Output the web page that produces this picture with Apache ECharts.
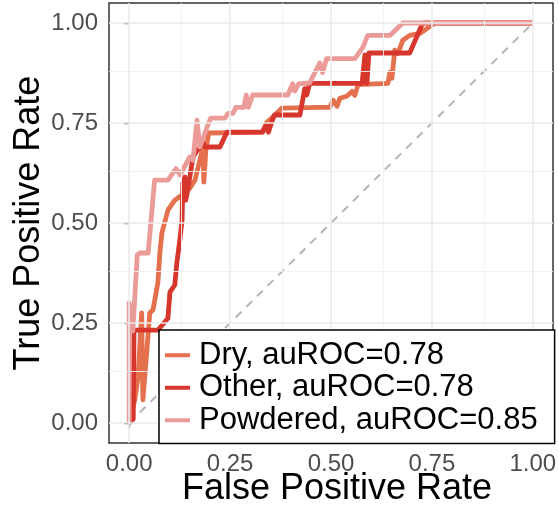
<!DOCTYPE html>
<html>
<head>
<meta charset="utf-8">
<script src="https://cdn.jsdelivr.net/npm/echarts@6/dist/echarts.min.js"></script>
<style>
html,body{margin:0;padding:0;background:#fff;}
#chart{width:559px;height:506px;}
</style>
</head>
<body>
<div id="chart"></div>
<script>
// ---- data ----
var seriesNames = ['Dry, auROC=0.78', 'Other, auROC=0.78', 'Powdered, auROC=0.85'];
var tickValues = [0, 0.25, 0.5, 0.75, 1];
var minorBreaks = [0.125, 0.375, 0.625, 0.875];
var diagonal = [[0, 0], [1, 1]];

var dry = [
  [0,0],[0.014,0.058],[0.022,0.115],[0.031,0.275],[0.034,0.058],[0.044,0.183],[0.051,0.275],
  [0.059,0.283],[0.071,0.35],[0.076,0.425],[0.081,0.475],[0.096,0.532],[0.113,0.557],
  [0.138,0.575],[0.15,0.587],[0.163,0.607],[0.175,0.657],[0.183,0.69],[0.185,0.602],
  [0.19,0.682],[0.197,0.725],[0.331,0.727],[0.341,0.752],[0.356,0.765],[0.378,0.787],
  [0.472,0.789],[0.497,0.789],[0.505,0.807],[0.515,0.792],[0.522,0.812],[0.539,0.817],
  [0.552,0.829],[0.559,0.819],[0.567,0.846],[0.641,0.849],[0.646,0.877],[0.651,0.862],
  [0.658,0.932],[0.666,0.924],[0.678,0.957],[0.695,0.969],[0.72,0.974],[0.752,0.996],
  [0.762,1],[1,1]
];
var other = [
  [0,0],[0.01,0.01],[0.012,0.232],[0.071,0.232],[0.096,0.262],[0.101,0.327],[0.113,0.345],
  [0.118,0.4],[0.126,0.462],[0.131,0.507],[0.133,0.6],[0.138,0.615],[0.14,0.557],
  [0.145,0.582],[0.158,0.664],[0.165,0.676],[0.183,0.7],[0.188,0.69],[0.225,0.69],
  [0.242,0.727],[0.33,0.727],[0.34,0.747],[0.345,0.727],[0.354,0.755],[0.36,0.77],
  [0.423,0.77],[0.435,0.836],[0.44,0.82],[0.447,0.849],[0.577,0.849],[0.584,0.92],
  [0.589,0.849],[0.594,0.925],[0.695,0.925],[0.725,0.995],[0.73,1],[1,1]
];
var powdered = [
  [0,0],[0,0.30],[0.009,0.23],[0.02,0.42],[0.026,0.425],[0.047,0.425],[0.063,0.607],
  [0.096,0.607],[0.116,0.636],[0.126,0.62],[0.15,0.665],[0.158,0.657],[0.168,0.757],
  [0.175,0.69],[0.195,0.745],[0.202,0.762],[0.237,0.762],[0.245,0.774],[0.257,0.774],
  [0.264,0.789],[0.284,0.789],[0.29,0.82],[0.295,0.789],[0.306,0.82],[0.393,0.82],
  [0.405,0.848],[0.41,0.83],[0.42,0.848],[0.447,0.85],[0.472,0.9],[0.479,0.876],
  [0.489,0.911],[0.559,0.911],[0.579,0.939],[0.591,0.969],[0.646,0.969],[0.678,1],[1,1]
];

// ---- chart ----
var colors = ['#e5704d', '#d6362c', '#eb9b98'];
var font = 'Liberation Sans, Arial, Helvetica, sans-serif';

function gridLines(vals, axis) {
  return vals.map(function (v) { var o = {}; o[axis] = v; return o; });
}

function curve(name, data, color, z) {
  return {
    name: name, type: 'line', data: data, showSymbol: false, symbol: 'none',
    z: z, animation: false, silent: true,
    lineStyle: { color: color, width: 4.8, join: 'round', cap: 'butt' },
    itemStyle: { color: color }
  };
}

var chart = echarts.init(document.getElementById('chart'), null, { renderer: 'canvas' });
chart.setOption({
  animation: false,
  backgroundColor: '#fff',
  textStyle: { fontFamily: font },
  grid: { left: 109, right: 6, top: 3, bottom: 63, show: true, borderColor: '#333333', borderWidth: 1.5,
    backgroundColor: 'transparent', containLabel: false, outerBoundsMode: 'none' },
  xAxis: {
    type: 'value', min: -0.05, max: 1.05,
    name: 'False Positive Rate', nameLocation: 'middle', nameGap: 28, nameMoveOverlap: false,
    nameTextStyle: { fontSize: 36, color: '#000', fontFamily: font, padding: [0, 0, 0, 12] },
    axisLine: { show: false },
    axisTick: { show: true, customValues: tickValues, length: 5, lineStyle: { color: '#333333', width: 1.3 } },
    axisLabel: { show: true, customValues: tickValues, margin: 9, fontSize: 24, color: '#4d4d4d', fontFamily: font,
      formatter: function (v) { return v.toFixed(2); } },
    splitLine: { show: false }
  },
  yAxis: {
    type: 'value', min: -0.05, max: 1.05,
    name: 'True Positive Rate', nameLocation: 'middle', nameGap: 62, nameMoveOverlap: false,
    nameTextStyle: { fontSize: 36, color: '#000', fontFamily: font },
    axisLine: { show: false },
    axisTick: { show: true, customValues: tickValues, length: 5, lineStyle: { color: '#333333', width: 1.3 } },
    axisLabel: { show: true, customValues: tickValues, margin: 11, fontSize: 24, color: '#4d4d4d', fontFamily: font,
      formatter: function (v) { return v.toFixed(2); } },
    splitLine: { show: false }
  },
  legend: {
    data: seriesNames,
    orient: 'vertical', left: 159, top: 330,
    padding: [9, 17, 7, 6], itemGap: 0, itemWidth: 25, itemHeight: 4, icon: 'rect',
    backgroundColor: '#fff', borderColor: '#000', borderWidth: 1.5, borderRadius: 0,
    textStyle: { fontSize: 31, color: '#000', lineHeight: 32.5, fontFamily: font, padding: [0, 0, 0, 4] },
    selectedMode: false, z: 10
  },
  series: [
    {
      type: 'line', data: [], silent: true, z: 0, animation: false,
      markLine: {
        silent: true, symbol: 'none', animation: false, label: { show: false },
        lineStyle: { color: '#f2f2f2', width: 0.9, type: 'solid' },
        data: gridLines(minorBreaks, 'xAxis').concat(gridLines(minorBreaks, 'yAxis'))
      }
    },
    {
      type: 'line', data: [], silent: true, z: 0, animation: false,
      markLine: {
        silent: true, symbol: 'none', animation: false, label: { show: false },
        lineStyle: { color: '#ebebeb', width: 1.6, type: 'solid' },
        data: gridLines(tickValues, 'xAxis').concat(gridLines(tickValues, 'yAxis'))
      }
    },
    {
      type: 'line', data: diagonal, showSymbol: false, symbol: 'none', silent: true, z: 1, animation: false,
      lineStyle: { color: '#b5b5b5', width: 2, type: [8, 7] }
    },
    curve(seriesNames[0], dry, colors[0], 2),
    curve(seriesNames[1], other, colors[1], 3),
    curve(seriesNames[2], powdered, colors[2], 4)
  ]
});
</script>
</body>
</html>
